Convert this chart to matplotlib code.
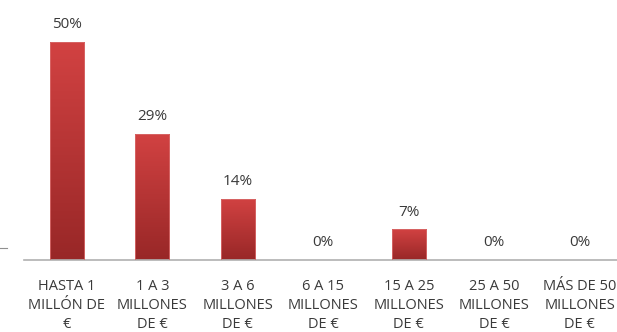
import numpy as np
import matplotlib
matplotlib.use("Agg")
import matplotlib.pyplot as plt
from matplotlib.colors import LinearSegmentedColormap

categories = ["HASTA 1\nMILLÓN DE\n€", "1 A 3\nMILLONES\nDE €", "3 A 6\nMILLONES\nDE €",
              "6 A 15\nMILLONES\nDE €", "15 A 25\nMILLONES\nDE €", "25 A 50\nMILLONES\nDE €",
              "MÁS DE 50\nMILLONES\nDE €"]
values = [50, 29, 14, 0, 7, 0, 0]
value_labels = ["50%", "29%", "14%", "0%", "7%", "0%", "0%"]

W, H = 617, 332
fig = plt.figure(figsize=(W / 100, H / 100), dpi=100)
plt.rcParams['font.family'] = ['Open Sans', 'DejaVu Sans']

# axes: left at 24px, baseline at y=260px, top of the 50% bar at 42px
left_px, right_px = 24, 617
base_px, top_px = 260, 42
ax = fig.add_axes([left_px / W, (H - base_px) / H, (right_px - left_px) / W, (base_px - top_px) / H])
slot = 85.5
ax.set_xlim(-0.5, -0.5 + (right_px - left_px) / slot)
ax.set_ylim(0, 50)

x = np.arange(len(values))
bars = ax.bar(x, values, width=0.4, color="none", edgecolor="#d86a6a", linewidth=0.6, zorder=3)

grad = LinearSegmentedColormap.from_list("bar_grad", ["#982727", "#d24242"])
g = np.linspace(0, 1, 256).reshape(-1, 1)
for b, v in zip(bars, values):
    if v <= 0:
        continue
    x0 = b.get_x()
    im = ax.imshow(g, cmap=grad, origin="lower", aspect="auto",
                   extent=[x0, x0 + b.get_width(), 0, v], zorder=2)
    im.set_clip_path(b)

text_color = "#3a3a3a"
for xi, v, lab in zip(x, values, value_labels):
    ax.annotate(lab, (xi, v), xytext=(0, 17), textcoords="offset pixels",
                ha="center", va="center", fontsize=11, color=text_color)

for s in ["top", "right", "left"]:
    ax.spines[s].set_visible(False)
ax.spines["bottom"].set_color("#b0b0b0")
ax.spines["bottom"].set_linewidth(1.2)
ax.set_yticks([])
ax.set_xticks(x)
ax.set_xticklabels(categories, fontsize=10.5, color=text_color, linespacing=1.36)
ax.tick_params(axis="x", length=0, pad=14)

# short stub at the far left
fig.add_artist(plt.Line2D([0 / W, 7 / W], [(H - 248) / H] * 2, color="#909090", lw=0.8))

fig.savefig("out.png", dpi=100)
